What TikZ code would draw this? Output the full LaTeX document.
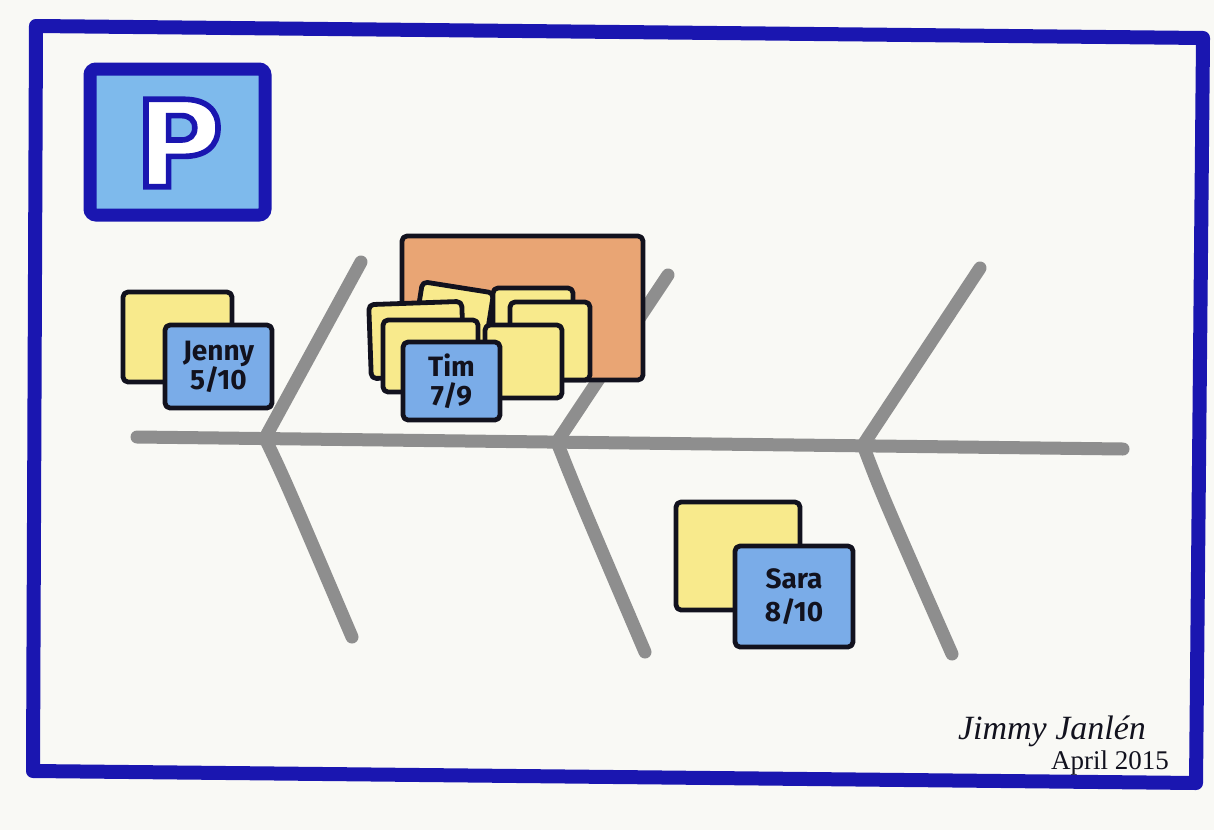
\documentclass[tikz,border=0pt]{standalone}
\usepackage{fontspec}
\newfontfamily\handfont{Fira Sans}
\newfontfamily\signfont{Liberation Serif}
\newfontfamily\pfont{DejaVu Sans}
\newcommand{\outlinedtext}[1]{\special{pdf:literal direct 2 Tr 2.8 w 0.102 0.086 0.69 RG}#1\special{pdf:literal direct 0 Tr}}
\definecolor{paper}{RGB}{249,249,245}
\definecolor{frameblue}{RGB}{26,22,176}
\definecolor{lightblue}{RGB}{126,186,236}
\definecolor{noteblue}{RGB}{122,172,232}
\definecolor{noteyellow}{RGB}{248,234,140}
\definecolor{board}{RGB}{233,165,116}
\definecolor{bone}{RGB}{142,142,142}
\definecolor{ink}{RGB}{18,18,30}
\begin{document}
\begin{tikzpicture}[x=0.5pt,y=-0.5pt,
  bonestyle/.style={draw=bone, line width=6.5pt, line cap=round},
  notebase/.style={draw=ink, line width=2.4pt, rounded corners=2.5pt, inner sep=0pt, line join=round},
  yellownote/.style={notebase, fill=noteyellow},
  bluenote/.style={notebase, fill=noteblue, font=\handfont\bfseries\fontsize{14}{15.5}\selectfont, text=ink, align=center},
  boardstyle/.style={notebase, fill=board},
  signtext/.style={text=ink, inner sep=0pt}]
\useasboundingbox (0,0) rectangle (1214,830);
\fill[paper] (0,0) rectangle (1214,830);

% outer frame
\draw[frameblue, line width=7pt, line join=round]
  (36,26) -- (1203,38) -- (1196,783) -- (33,771) -- cycle;

% P badge
\node[draw=frameblue, line width=6.5pt, fill=lightblue, minimum width=87.5pt, minimum height=73pt, rounded corners=3pt] (pbox) at (177.5,142) {};
\node[font=\pfont\bfseries\fontsize{60}{60}\selectfont, text=white, inner sep=0pt] (pletter) at (179,143) {\outlinedtext{P}};

% fishbone
\coordinate (spineL) at (137,437);
\coordinate (spineR) at (1123,449);
\coordinate (j1) at (265,438);
\coordinate (j2) at (557,442);
\coordinate (j3) at (863,445);
\coordinate (u1) at (361,262);
\coordinate (u2) at (668,275);
\coordinate (u3) at (980,268);
\coordinate (d1) at (352,637);
\coordinate (d2) at (645,652);
\coordinate (d3) at (952,654);
\draw[bonestyle] (spineL) -- (spineR);
\draw[bonestyle] (j1) -- (u1);
\draw[bonestyle] (j2) -- (u2);
\draw[bonestyle] (j3) -- (u3);
\draw[bonestyle] (j1) .. controls (285,480) .. (d1);
\draw[bonestyle] (j2) .. controls (578,495) .. (d2);
\draw[bonestyle] (j3) .. controls (882,495) .. (d3);

% Jenny
\node[yellownote, minimum width=54.5pt, minimum height=45pt] (jennyY) at (177.5,337) {};
\node[bluenote, minimum width=53.5pt, minimum height=41.5pt] (jenny) at (218.5,366.5) {Jenny\\[-1pt]5/10};

% Tim cluster
\node[boardstyle, minimum width=120.5pt, minimum height=72pt] (board) at (522.5,308) {};
\node[yellownote, minimum width=36pt, minimum height=26pt, rotate=-9] (c1) at (454,313) {};
\node[yellownote, minimum width=40pt, minimum height=26pt] (c2) at (533,314) {};
\node[yellownote, minimum width=40pt, minimum height=39pt] (c4) at (550,341) {};
\node[yellownote, minimum width=46.5pt, minimum height=37pt, rotate=2] (c3) at (416.5,340) {};
\node[yellownote, minimum width=38.5pt, minimum height=36.5pt] (c6) at (523.5,361.5) {};
\node[yellownote, minimum width=47.5pt, minimum height=36pt] (c5) at (430.5,356) {};
\node[bluenote, minimum width=48.5pt, minimum height=39pt] (tim) at (451.5,381) {Tim\\[-1pt]7/9};

% Sara
\node[yellownote, minimum width=62pt, minimum height=54pt] (saraY) at (738,556) {};
\node[bluenote, minimum width=59pt, minimum height=50.5pt] (sara) at (794,596.5) {Sara\\[1pt]8/10};

% signature
\node[signtext, font=\signfont\itshape\fontsize{17}{17}\selectfont] (sig) at (1052,731) {Jimmy Janlén};
\node[signtext, font=\signfont\fontsize{13.5}{13.5}\selectfont] (date) at (1110,763) {April 2015};
\end{tikzpicture}
\end{document}
